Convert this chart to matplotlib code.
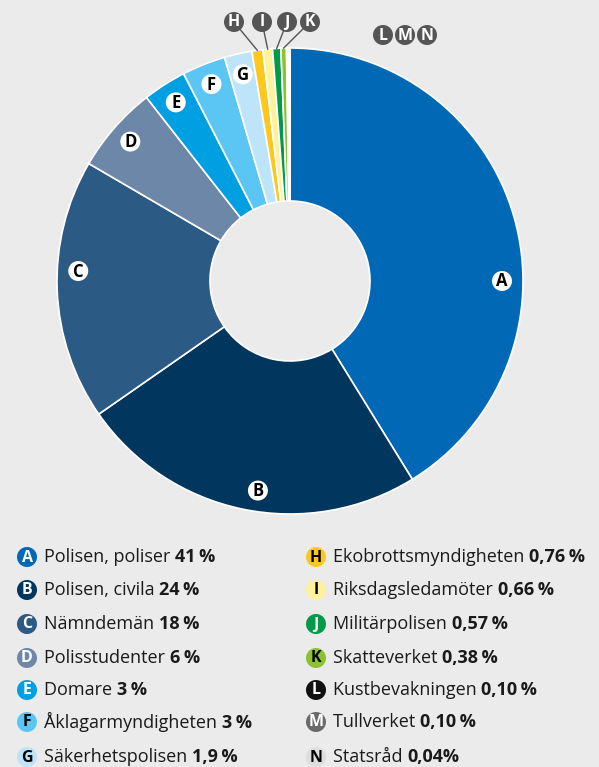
import numpy as np
import matplotlib
matplotlib.use('Agg')
import matplotlib.pyplot as plt
from matplotlib.patches import Circle

plt.rcParams['font.family'] = ['Open Sans', 'DejaVu Sans']

letters = list('ABCDEFGHIJKLMN')
names = ['Polisen, poliser', 'Polisen, civila', 'Nämndemän', 'Polisstudenter',
         'Domare', 'Åklagarmyndigheten', 'Säkerhetspolisen', 'Ekobrottsmyndigheten',
         'Riksdagsledamöter', 'Militärpolisen', 'Skatteverket', 'Kustbevakningen',
         'Tullverket', 'Statsråd']
values = [41, 24, 18, 6, 3, 3, 1.9, 0.76, 0.66, 0.57, 0.38, 0.10, 0.10, 0.04]
pct_labels = ['41\u2009%', '24\u2009%', '18\u2009%', '6\u2009%', '3\u2009%', '3\u2009%',
              '1,9\u2009%', '0,76\u2009%', '0,66\u2009%', '0,57\u2009%', '0,38\u2009%',
              '0,10\u2009%', '0,10\u2009%', '0,04%']
colors = ['#0068b4', '#01365f', '#2b5a84', '#6d87a9', '#009fe1', '#5bc6f3',
          '#bde4f8', '#fdc81c', '#fff29c', '#009a48', '#8cc12f', '#111111',
          '#6a6a6a', '#dedede']
letter_colors = ['white', 'white', 'white', 'white', 'white', 'black', 'black',
                 'black', 'black', 'white', 'black', 'white', 'white', 'black']
# label angle for the big wedges (None = middle of wedge)
label_angle = [0, -98.7, 177.3, None, None, None, None]

W, H = 599, 767
bg = '#ebebeb'
fig = plt.figure(figsize=(W / 100, H / 100), dpi=100, facecolor=bg)
ax = fig.add_axes([0, 0, 1, 1])
ax.set_facecolor(bg)


def Y(y):
    return H - y


cx, cy, R, r_in = 290, Y(281), 233, 80
wedges, _ = ax.pie(values, colors=colors, startangle=90, counterclock=False,
                   center=(cx, cy), radius=R, frame=True,
                   wedgeprops=dict(width=R - r_in, edgecolor='white', linewidth=1.2))

# angles of wedge middles
tot = sum(values)
cum = np.cumsum([0] + values[:-1])
mid = 90 - (cum + np.array(values) / 2) / tot * 360


def badge(x, y, letter, fc, tc, rad=10, fs=11.5):
    ax.add_patch(Circle((x, y), rad, fc=fc, ec='none', zorder=5))
    ax.text(x, y - 0.5, letter, ha='center', va='center', color=tc,
            fontsize=fs, fontweight='bold', zorder=6)


# labels inside big wedges
for i in range(7):
    ang = mid[i] if label_angle[i] is None else label_angle[i]
    a = np.radians(ang)
    badge(cx + 212 * np.cos(a), cy + 212 * np.sin(a), letters[i], 'white', 'black',
          rad=10, fs=12)

# small wedges H-K with leader lines
top_pos = [234, 262, 287, 310]
for k, i in enumerate(range(7, 11)):
    a = np.radians(mid[i])
    ex, ey = cx + R * np.cos(a), cy + R * np.sin(a)
    bx, by = top_pos[k], Y(22)
    ax.plot([bx, ex], [by, ey], color='#555555', lw=1, zorder=4)
    badge(bx, by, letters[i], '#555555', 'white', rad=10, fs=11.5)

for x, l in zip([383, 405, 427], 'LMN'):
    badge(x, Y(35), l, '#555555', 'white', rad=10, fs=11.5)

# legend
fig.canvas.draw()
rows = [557, 590, 624, 658, 690, 722, 757]
for i in range(14):
    col = i // 7
    row = i % 7
    bx = 27 if col == 0 else 316
    by = Y(rows[row])
    badge(bx, by, letters[i], colors[i], letter_colors[i], rad=10, fs=11.5)
    t = ax.text(bx + 17, by, names[i] + ' ', ha='left', va='center',
                fontsize=13, color='#1a1a1a')
    ax.annotate(pct_labels[i], xy=(1, 0), xycoords=t, xytext=(0, 0),
                textcoords='offset points', ha='left', va='bottom',
                fontsize=13, fontweight='bold', color='#1a1a1a')

ax.set_xlim(0, W)
ax.set_ylim(0, H)
ax.set_aspect('equal')
ax.axis('off')

fig.savefig('out.png', dpi=100, facecolor=bg)
